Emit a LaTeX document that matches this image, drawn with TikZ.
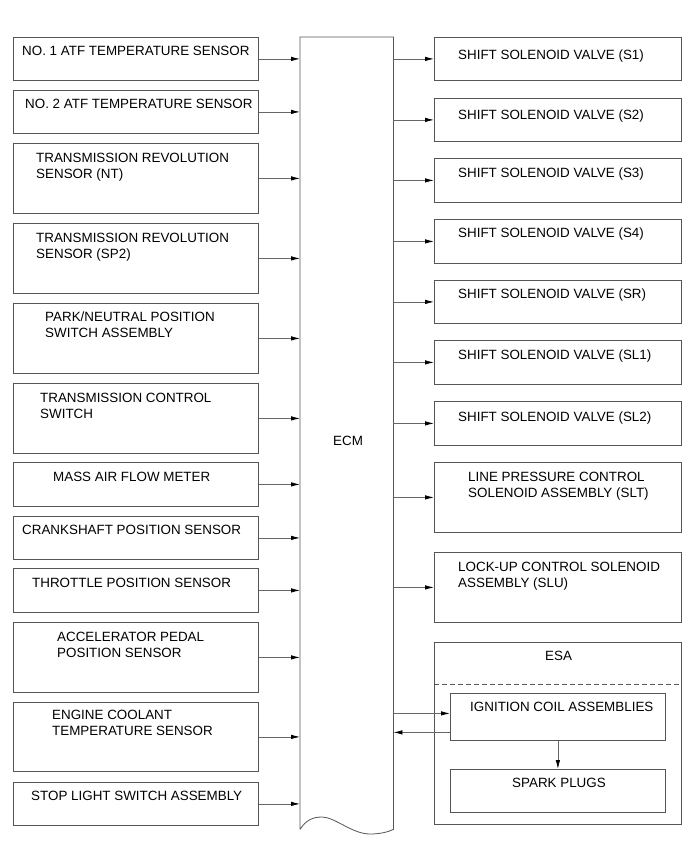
\documentclass[tikz,border=0pt]{standalone}
\usepackage{fontspec}
\setmainfont{Liberation Sans}
\usetikzlibrary{arrows.meta}
\definecolor{boxc}{HTML}{555555}
\definecolor{linec}{HTML}{666666}
\newcommand\mybox[5]{\node[box,minimum width=#4pt,minimum height=#5pt,anchor=north west] (#1) at (#2,#3) {};}
\newcommand\mytext[4]{\node[lbl] (#1) at (#2,#3) {#4};}
\begin{document}
\begin{tikzpicture}[x=1pt,y=-1pt,
  box/.style={draw=boxc,line width=0.8pt,rectangle,inner sep=0pt},
  lbl/.style={anchor=base west,align=left,inner sep=0pt,font=\fontsize{13.4}{16}\selectfont},
  conn/.style={draw=linec,line width=0.8pt,-{Latex[length=9pt,width=4.5pt,color=black]}}]
\useasboundingbox[fill=white] (0,0) rectangle (691,855);

% ECM
\node[inner sep=0pt,minimum width=93pt,minimum height=792pt,anchor=north west] (ECM) at (300,37) {};
\draw[boxc,line width=0.8pt] (ECM.south west) -- (ECM.north west) -- (ECM.north east) -- (ECM.south east)
  .. controls (388,832) and (380,834) .. (370,834)
  .. controls (352,834) and (335,817) .. (322,817)
  .. controls (313,817) and (306,820) .. (ECM.south west);
\mytext{ecmt}{333}{445}{ECM}

% left boxes
\mybox{L1}{13}{37}{245}{43}
\mybox{L2}{13}{90}{245}{43}
\mybox{L3}{13}{143}{245}{70}
\mybox{L4}{13}{223}{245}{70}
\mybox{L5}{13}{303}{245}{70}
\mybox{L6}{13}{383}{245}{70}
\mybox{L7}{13}{462}{245}{44}
\mybox{L8}{13}{516}{245}{43}
\mybox{L9}{13}{568}{245}{44}
\mybox{L10}{13}{622}{245}{70}
\mybox{L11}{13}{702}{245}{69}
\mybox{L12}{13}{782}{245}{43}

\mytext{t1}{22}{55}{NO. 1 ATF TEMPERATURE SENSOR}
\mytext{t2}{25}{108}{NO. 2 ATF TEMPERATURE SENSOR}
\mytext{t3}{36}{178}{TRANSMISSION REVOLUTION\\SENSOR (NT)}
\mytext{t4}{36}{258}{TRANSMISSION REVOLUTION\\SENSOR (SP2)}
\mytext{t5}{45}{337}{PARK/NEUTRAL POSITION\\SWITCH ASSEMBLY}
\mytext{t6}{40}{418}{TRANSMISSION CONTROL\\SWITCH}
\mytext{t7}{53}{481}{MASS AIR FLOW METER}
\mytext{t8}{22}{534}{CRANKSHAFT POSITION SENSOR}
\mytext{t9}{32}{587}{THROTTLE POSITION SENSOR}
\mytext{t10}{57}{657}{ACCELERATOR PEDAL\\POSITION SENSOR}
\mytext{t11}{52}{735}{ENGINE COOLANT\\TEMPERATURE SENSOR}
\mytext{t12}{31}{800}{STOP LIGHT SWITCH ASSEMBLY}

\foreach \k in {1,...,12}{\draw[conn] (L\k.east) -- (L\k.east -| ECM.west);}

% right boxes
\mybox{R1}{434}{37}{247}{43}
\mybox{R2}{434}{98}{247}{43}
\mybox{R3}{434}{158}{247}{44}
\mybox{R4}{434}{219}{247}{44}
\mybox{R5}{434}{280}{247}{43}
\mybox{R6}{434}{340}{247}{44}
\mybox{R7}{434}{401}{247}{44}
\mybox{R8}{434}{462}{247}{70}
\mybox{R9}{434}{552}{247}{70}

\mytext{s1}{458}{59}{SHIFT SOLENOID VALVE (S1)}
\mytext{s2}{458}{119}{SHIFT SOLENOID VALVE (S2)}
\mytext{s3}{458}{177}{SHIFT SOLENOID VALVE (S3)}
\mytext{s4}{458}{237}{SHIFT SOLENOID VALVE (S4)}
\mytext{s5}{458}{298}{SHIFT SOLENOID VALVE (SR)}
\mytext{s6}{458}{359}{SHIFT SOLENOID VALVE (SL1)}
\mytext{s7}{458}{421}{SHIFT SOLENOID VALVE (SL2)}
\mytext{s8}{468}{497}{LINE PRESSURE CONTROL\\SOLENOID ASSEMBLY (SLT)}
\mytext{s9}{458}{587}{LOCK-UP CONTROL SOLENOID\\ASSEMBLY (SLU)}

\foreach \k in {1,...,9}{\draw[conn] (R\k.west -| ECM.east) -- (R\k.west);}

% ESA
\mybox{ESA}{434}{642}{247}{182}
\draw[boxc,line width=0.8pt,dash pattern=on 5pt off 3pt] ([yshift=-42pt]ESA.north west) -- ([yshift=-42pt]ESA.north east);
\mytext{esat}{545}{660}{ESA}
\mybox{IGN}{450}{693}{215}{47}
\mybox{SPK}{450}{769}{215}{43}
\mytext{ignt}{470}{711}{IGNITION COIL ASSEMBLIES}
\mytext{spkt}{512}{787}{SPARK PLUGS}
\draw[conn] ([yshift=3.5pt]IGN.west -| ECM.east) -- ([yshift=3.5pt]IGN.west);
\draw[conn] ([yshift=-15.5pt]IGN.west) -- ([yshift=-15.5pt]IGN.west -| ECM.east);
\draw[conn] (IGN.south) -- (SPK.north);
\end{tikzpicture}
\end{document}
